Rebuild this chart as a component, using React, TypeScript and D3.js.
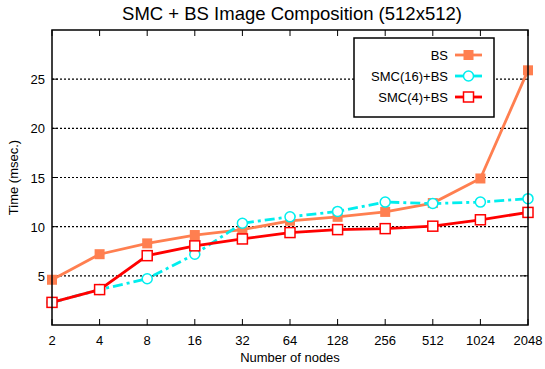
import React, { useRef, useEffect } from 'react'
import * as d3 from 'd3'

const nodes = ['2', '4', '8', '16', '32', '64', '128', '256', '512', '1024', '2048']
const bsValues = [4.6, 7.2, 8.3, 9.15, 9.7, 10.6, 11.0, 11.5, 12.4, 14.9, 25.9]
const smc16Values = [2.3, 3.6, 4.7, 7.2, 10.35, 11.0, 11.55, 12.5, 12.35, 12.5, 12.85]
const smc4Values = [2.3, 3.6, 7.05, 8.05, 8.75, 9.4, 9.7, 9.8, 10.05, 10.7, 11.45]
const yTicks = [5, 10, 15, 20, 25]

const FONT = '"Liberation Sans", Arial, sans-serif'

export default function App() {
  const svgRef = useRef<SVGSVGElement>(null)
  const width = 545
  const height = 369

  useEffect(() => {
    if (!svgRef.current) return
    const svg = d3.select(svgRef.current)
    svg.selectAll('*').remove()

    const margin = { top: 30, right: 17, bottom: 44, left: 52 }
    const innerWidth = width - margin.left - margin.right
    const innerHeight = height - margin.top - margin.bottom

    const x = d3.scalePoint().domain(nodes).range([0, innerWidth])
    const y = d3.scaleLinear().domain([0, 30]).range([innerHeight, 0])

    const g = svg.append('g').attr('transform', `translate(${margin.left},${margin.top})`)

    // dotted grid
    g.selectAll('.grid')
      .data(yTicks)
      .enter().append('line')
      .attr('x1', 0).attr('x2', innerWidth)
      .attr('y1', d => y(d)).attr('y2', d => y(d))
      .attr('stroke', '#000')
      .attr('stroke-width', 1.2)
      .attr('stroke-dasharray', '2,2')

    // tick marks (inward, mirrored)
    nodes.forEach(n => {
      g.append('line').attr('x1', x(n)!).attr('x2', x(n)!).attr('y1', innerHeight).attr('y2', innerHeight - 6).attr('stroke', '#000')
      g.append('line').attr('x1', x(n)!).attr('x2', x(n)!).attr('y1', 0).attr('y2', 6).attr('stroke', '#000')
    })
    yTicks.forEach(t => {
      g.append('line').attr('x1', 0).attr('x2', 6).attr('y1', y(t)).attr('y2', y(t)).attr('stroke', '#000')
      g.append('line').attr('x1', innerWidth).attr('x2', innerWidth - 6).attr('y1', y(t)).attr('y2', y(t)).attr('stroke', '#000')
    })

    // tick labels
    g.selectAll('.xl')
      .data(nodes)
      .enter().append('text')
      .attr('x', d => x(d)!)
      .attr('y', innerHeight + 20)
      .attr('text-anchor', 'middle')
      .style('font-size', '13px')
      .style('font-family', FONT)
      .text(d => d)

    g.selectAll('.yl')
      .data(yTicks)
      .enter().append('text')
      .attr('x', -7)
      .attr('y', d => y(d) + 5)
      .attr('text-anchor', 'end')
      .style('font-size', '13px')
      .style('font-family', FONT)
      .text(d => d)

    const series = [
      { name: 'BS', values: bsValues, color: '#FF7F50', dash: null as string | null, marker: 'fsquare' },
      { name: 'SMC(16)+BS', values: smc16Values, color: '#00EEEE', dash: '10,4,3,4', marker: 'circle' },
      { name: 'SMC(4)+BS', values: smc4Values, color: '#FF0000', dash: null as string | null, marker: 'square' },
    ]

    const line = d3.line<number>()
      .x((_, i) => x(nodes[i])!)
      .y(d => y(d))

    const drawMarker = (sel: any, cx: number, cy: number, s: typeof series[0]) => {
      if (s.marker === 'circle') {
        sel.append('circle').attr('cx', cx).attr('cy', cy).attr('r', 5)
          .attr('fill', '#fff').attr('stroke', s.color).attr('stroke-width', 1.5)
      } else {
        const sz = 10
        sel.append('rect').attr('x', cx - sz / 2).attr('y', cy - sz / 2).attr('width', sz).attr('height', sz)
          .attr('fill', s.marker === 'fsquare' ? s.color : '#fff')
          .attr('stroke', s.color).attr('stroke-width', s.marker === 'fsquare' ? 0 : 1.5)
      }
    }

    series.forEach(s => {
      g.append('path')
        .datum(s.values)
        .attr('d', line)
        .attr('fill', 'none')
        .attr('stroke', s.color)
        .attr('stroke-width', 2.8)
        .attr('stroke-dasharray', s.dash)
      s.values.forEach((v, i) => drawMarker(g, x(nodes[i])!, y(v), s))
    })

    // legend
    const lg = svg.append('g')
    lg.append('rect')
      .attr('x', 354).attr('y', 38).attr('width', 140).attr('height', 79)
      .attr('fill', '#fff').attr('stroke', '#000').attr('stroke-width', 1.5)
    series.forEach((s, i) => {
      const ly = 55 + i * 21
      lg.append('text')
        .attr('x', 448).attr('y', ly + 5)
        .attr('text-anchor', 'end')
        .style('font-size', '13px')
        .style('font-family', FONT)
        .text(s.name)
      lg.append('line')
        .attr('x1', 455).attr('x2', 482).attr('y1', ly).attr('y2', ly)
        .attr('stroke', s.color).attr('stroke-width', 2.8)
      drawMarker(lg, 468.5, ly, s)
    })

    // border
    g.append('rect')
      .attr('width', innerWidth).attr('height', innerHeight)
      .attr('fill', 'none').attr('stroke', '#000').attr('stroke-width', 1.5)

    // titles
    svg.append('text')
      .attr('x', 292).attr('y', 20)
      .attr('text-anchor', 'middle')
      .style('font-size', '18.5px')
      .style('font-family', FONT)
      .text('SMC + BS Image Composition (512x512)')

    svg.append('text')
      .attr('x', margin.left + innerWidth / 2).attr('y', 362)
      .attr('text-anchor', 'middle')
      .style('font-size', '13px')
      .style('font-family', FONT)
      .text('Number of nodes')

    svg.append('text')
      .attr('transform', `translate(18,${margin.top + innerHeight / 2}) rotate(-90)`)
      .attr('text-anchor', 'middle')
      .style('font-size', '13px')
      .style('font-family', FONT)
      .text('Time (msec.)')
  }, [])

  return (
    <svg
      ref={svgRef}
      width={width}
      height={height}
      style={{ position: 'absolute', left: 0, top: 0, background: '#fff', fontFamily: FONT }}
    />
  )
}
